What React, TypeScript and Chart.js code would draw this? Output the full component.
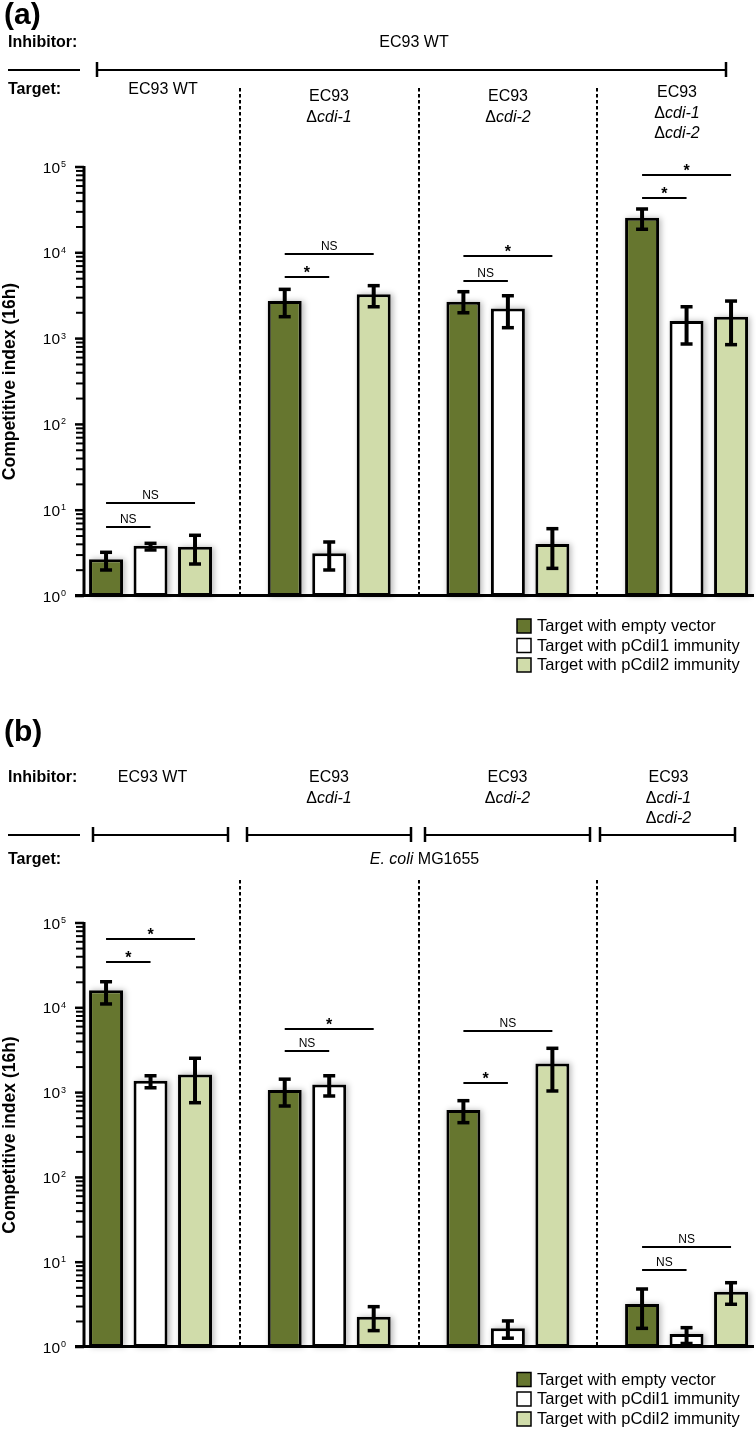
import React, { useEffect, useRef } from 'react';
import { Chart, registerables } from 'chart.js';

Chart.register(...registerables);

const FONT = '"Liberation Sans", Arial, Helvetica, sans-serif';

// ---------- shared ----------
const SERIES_LABELS = ['Target with empty vector', 'Target with pCdiI1 immunity', 'Target with pCdiI2 immunity'];
const SERIES_COLORS = ['#66762f', '#ffffff', '#d0dcaa'];
const GROUP_KEYS = ['g1', 'g2', 'g3', 'g4'];
const Y_TICK_EXPONENTS = [0, 1, 2, 3, 4, 5];
const Y_TITLE = 'Competitive index (16h)';
const INHIBITOR_HEAD = 'Inhibitor:';
const TARGET_HEAD = 'Target:';

// ---------- panel (a) ----------
const A_TITLE = '(a)';
const A_INHIBITORS = [['EC93 WT']];
const A_TARGETS = [['EC93 WT'], ['EC93', 'Δ_cdi-1_'], ['EC93', 'Δ_cdi-2_'], ['EC93', 'Δ_cdi-1_', 'Δ_cdi-2_']];
const A_EMPTY = [2.68, 2740, 2690, 25600];
const A_EMPTY_LO = [2.01, 1800, 2000, 18800];
const A_EMPTY_HI = [3.23, 3750, 3520, 32400];
const A_PI1 = [3.86, 3.14, 2250, 1600];
const A_PI1_LO = [3.44, 2.01, 1340, 865];
const A_PI1_HI = [4.11, 4.26, 3160, 2350];
const A_PI2 = [3.76, 3280, 4.04, 1800];
const A_PI2_LO = [2.36, 2350, 2.1, 850];
const A_PI2_HI = [5.1, 4140, 6.09, 2740];
const A_SIG_12 = ['NS', '*', 'NS', '*'];
const A_SIG_12_Y = [6.4, 5260, 4730, 43500];
const A_SIG_13 = ['NS', 'NS', '*', '*'];
const A_SIG_13_Y = [12.0, 9700, 9100, 80000];

// ---------- panel (b) ----------
const B_TITLE = '(b)';
const B_INHIBITORS = [['EC93 WT'], ['EC93', 'Δ_cdi-1_'], ['EC93', 'Δ_cdi-2_'], ['EC93', 'Δ_cdi-1_', 'Δ_cdi-2_']];
const B_TARGETS = [['_E. coli_ MG1655']];
const B_EMPTY = [16100, 1070, 623, 3.21];
const B_EMPTY_LO = [11100, 695, 442, 1.66];
const B_EMPTY_HI = [20300, 1440, 803, 4.83];
const B_PI1 = [1380, 1250, 1.66, 1.42];
const B_PI1_LO = [1140, 912, 1.27, 1.1];
const B_PI1_HI = [1580, 1580, 2.03, 1.69];
const B_PI2 = [1640, 2.28, 2210, 4.49];
const B_PI2_LO = [760, 1.56, 1045, 3.19];
const B_PI2_HI = [2540, 2.99, 3330, 5.73];
const B_SIG_12 = ['*', 'NS', '*', 'NS'];
const B_SIG_12_Y = [35000, 3100, 1290, 8.2];
const B_SIG_13 = ['*', '*', 'NS', 'NS'];
const B_SIG_13_Y = [65000, 5670, 5320, 15.1];

// ---------- layout (positions / sizes only) ----------
const CANVAS_W = 780;
const PLOT_LEFT = 61.2;
const PLOT_RIGHT = 775.9;
const AXIS_X = 84;
const AXIS_RIGHT = 754;
const LINE_STEP = 20.5;

const A_LAYOUT = {
  height: 680, top: 167, bottom: 596,
  titleY: 16, inhibitorRowY: 43,
  inhibitorX: [414], inhibitorY: [43],
  bracketY: 70, brackets: [[97, 726]],
  targetRowY: 90,
  targetX: [163, 329, 508, 677], targetY: [90, 97, 97, 93],
  dottedTop: 88,
  legendY: [626, 645.5, 665],
};
const B_LAYOUT = {
  height: 750, top: 243, bottom: 667,
  titleY: 53, inhibitorRowY: 98,
  inhibitorX: [152.5, 329, 507.5, 668.5], inhibitorY: [98, 98, 98, 98],
  bracketY: 155, brackets: [[93, 228], [247, 411], [425, 590], [600, 735]],
  targetRowY: 180,
  targetX: [424.5], targetY: [180],
  dottedTop: 200,
  legendY: [699.5, 719, 739],
};

const PANEL_A = {
  title: A_TITLE, inhibitors: A_INHIBITORS, targets: A_TARGETS,
  values: [A_EMPTY, A_PI1, A_PI2], lo: [A_EMPTY_LO, A_PI1_LO, A_PI2_LO], hi: [A_EMPTY_HI, A_PI1_HI, A_PI2_HI],
  sig: [{ to: 1, labels: A_SIG_12, ys: A_SIG_12_Y }, { to: 2, labels: A_SIG_13, ys: A_SIG_13_Y }],
  layout: A_LAYOUT,
};
const PANEL_B = {
  title: B_TITLE, inhibitors: B_INHIBITORS, targets: B_TARGETS,
  values: [B_EMPTY, B_PI1, B_PI2], lo: [B_EMPTY_LO, B_PI1_LO, B_PI2_LO], hi: [B_EMPTY_HI, B_PI1_HI, B_PI2_HI],
  sig: [{ to: 1, labels: B_SIG_12, ys: B_SIG_12_Y }, { to: 2, labels: B_SIG_13, ys: B_SIG_13_Y }],
  layout: B_LAYOUT,
};

function drawRich(ctx: CanvasRenderingContext2D, text: string, cx: number, cy: number, size: number) {
  const parts = text.split('_');
  const fonts = parts.map((_, i) => `${i % 2 ? 'italic ' : ''}${size}px ${FONT}`);
  let total = 0;
  const widths = parts.map((t, i) => {
    ctx.font = fonts[i];
    const w = ctx.measureText(t).width;
    total += w;
    return w;
  });
  let x = cx - total / 2;
  ctx.textAlign = 'left';
  ctx.textBaseline = 'middle';
  parts.forEach((t, i) => {
    ctx.font = fonts[i];
    ctx.fillText(t, x, cy);
    x += widths[i];
  });
}

function hline(ctx: CanvasRenderingContext2D, x1: number, x2: number, y: number, w: number) {
  ctx.lineWidth = w;
  ctx.beginPath();
  ctx.moveTo(x1, y);
  ctx.lineTo(x2, y);
  ctx.stroke();
}
function vline(ctx: CanvasRenderingContext2D, x: number, y1: number, y2: number, w: number) {
  ctx.lineWidth = w;
  ctx.beginPath();
  ctx.moveTo(x, y1);
  ctx.lineTo(x, y2);
  ctx.stroke();
}

function makePlugin(p: any) {
  const L = p.layout;
  return {
    id: 'panelDecor',
    beforeDatasetsDraw(chart: any) {
      const ctx = chart.ctx;
      ctx.save();
      ctx.shadowColor = 'rgba(0,0,0,0.28)';
      ctx.shadowBlur = 6;
      ctx.shadowOffsetX = 2;
      ctx.fillStyle = '#ffffff';
      for (let d = 0; d < 3; d++) {
        chart.getDatasetMeta(d).data.forEach((el: any) => {
          ctx.fillRect(el.x - el.width / 2, el.y, el.width, el.base - el.y);
        });
      }
      ctx.restore();
    },
    afterDraw(chart: any) {
      const ctx: CanvasRenderingContext2D = chart.ctx;
      const xs = chart.scales.x;
      const ys = chart.scales.y;
      const area = chart.chartArea;
      ctx.save();
      ctx.fillStyle = '#000';
      ctx.strokeStyle = '#000';
      ctx.lineCap = 'butt';

      // Header
      ctx.textBaseline = 'middle';
      ctx.textAlign = 'left';
      ctx.font = `bold 30px ${FONT}`;
      ctx.fillText(p.title, 4, L.titleY);
      ctx.font = `bold 16px ${FONT}`;
      ctx.fillText(INHIBITOR_HEAD, 8, L.inhibitorRowY);
      ctx.fillText(TARGET_HEAD, 8, L.targetRowY);
      p.inhibitors.forEach((lines: string[], i: number) => {
        lines.forEach((t, j) => drawRich(ctx, t, L.inhibitorX[i], L.inhibitorY[i] + j * LINE_STEP, 16));
      });
      p.targets.forEach((lines: string[], i: number) => {
        lines.forEach((t, j) => drawRich(ctx, t, L.targetX[i], L.targetY[i] + j * LINE_STEP, 16));
      });
      hline(ctx, 8, 80, L.bracketY, 2);
      L.brackets.forEach(([a, b]: number[]) => {
        hline(ctx, a, b, L.bracketY, 2);
        vline(ctx, a, L.bracketY - 8, L.bracketY + 7, 2.5);
        vline(ctx, b, L.bracketY - 8, L.bracketY + 7, 2.5);
      });

      // Dotted separators between groups
      ctx.save();
      ctx.setLineDash([3.5, 2.5]);
      for (let g = 0; g < GROUP_KEYS.length - 1; g++) {
        const x = Math.round(xs.getPixelForValue(g + 0.5));
        vline(ctx, x, L.dottedTop, area.bottom, 2);
      }
      ctx.restore();

      // Error bars
      for (let d = 0; d < 3; d++) {
        chart.getDatasetMeta(d).data.forEach((el: any, g: number) => {
          const yt = ys.getPixelForValue(p.hi[d][g]);
          const yb = ys.getPixelForValue(p.lo[d][g]);
          vline(ctx, el.x, yt, yb, 4);
          hline(ctx, el.x - 6, el.x + 6, yt, 3.5);
          hline(ctx, el.x - 6, el.x + 6, yb, 3.5);
        });
      }

      // Significance brackets
      const m0 = chart.getDatasetMeta(0).data;
      p.sig.forEach((s: any) => {
        const mt = chart.getDatasetMeta(s.to).data;
        s.labels.forEach((lab: string, g: number) => {
          const y = Math.round(ys.getPixelForValue(s.ys[g]));
          const x1 = m0[g].x;
          const x2 = mt[g].x;
          hline(ctx, x1, x2, y, 2);
          ctx.textAlign = 'center';
          ctx.textBaseline = 'alphabetic';
          if (lab === '*') {
            ctx.font = `bold 16px ${FONT}`;
            ctx.fillText(lab, (x1 + x2) / 2, y + 1);
          } else {
            ctx.font = `12px ${FONT}`;
            ctx.fillText(lab, (x1 + x2) / 2, y - 4);
          }
        });
      });

      // Axes
      vline(ctx, AXIS_X, area.top - 1, area.bottom + 1, 3);
      hline(ctx, 75, AXIS_RIGHT, area.bottom - 0.5, 3);
      for (let e = 0; e < Y_TICK_EXPONENTS.length; e++) {
        const ex = Y_TICK_EXPONENTS[e];
        const yMaj = ys.getPixelForValue(Math.pow(10, ex));
        hline(ctx, 75, AXIS_X, yMaj, 2.5);
        if (e < Y_TICK_EXPONENTS.length - 1) {
          for (let m = 2; m <= 9; m++) {
            const y = ys.getPixelForValue(m * Math.pow(10, ex));
            hline(ctx, 76, AXIS_X, y, 2);
          }
        }
        ctx.textBaseline = 'alphabetic';
        ctx.textAlign = 'right';
        ctx.font = `15.5px ${FONT}`;
        ctx.fillText('10', 60, yMaj + 5.5);
        ctx.textAlign = 'left';
        ctx.font = `9px ${FONT}`;
        ctx.fillText(String(ex), 61, yMaj);
      }
      ctx.save();
      ctx.translate(10, (area.top + area.bottom) / 2);
      ctx.rotate(-Math.PI / 2);
      ctx.textAlign = 'center';
      ctx.textBaseline = 'middle';
      ctx.font = `bold 17.5px ${FONT}`;
      ctx.fillText(Y_TITLE, 0, 0);
      ctx.restore();

      // Legend
      SERIES_LABELS.forEach((lab, i) => {
        const y = L.legendY[i];
        ctx.fillStyle = SERIES_COLORS[i];
        ctx.fillRect(517, y - 7, 14, 14);
        ctx.lineWidth = 1.5;
        ctx.strokeStyle = '#000';
        ctx.strokeRect(517, y - 7, 14, 14);
        ctx.fillStyle = '#000';
        ctx.textAlign = 'left';
        ctx.textBaseline = 'middle';
        ctx.font = `16.5px ${FONT}`;
        ctx.fillText(lab, 537, y + 0.5);
      });
      ctx.restore();
    },
  };
}

function PanelChart({ panel }: { panel: any }) {
  const ref = useRef<HTMLCanvasElement | null>(null);
  useEffect(() => {
    const L = panel.layout;
    const chart = new Chart(ref.current as HTMLCanvasElement, {
      type: 'bar',
      data: {
        labels: GROUP_KEYS,
        datasets: panel.values.map((vals: number[], i: number) => ({
          label: SERIES_LABELS[i],
          data: vals,
          backgroundColor: SERIES_COLORS[i],
          borderColor: '#000000',
          borderWidth: 3,
          borderSkipped: false,
          categoryPercentage: 0.747,
          barPercentage: 0.764,
        })),
      },
      options: {
        responsive: false,
        animation: false,
        devicePixelRatio: 1,
        layout: {
          padding: { top: L.top, bottom: L.height - L.bottom, left: PLOT_LEFT, right: CANVAS_W - PLOT_RIGHT },
        },
        plugins: { legend: { display: false }, tooltip: { enabled: false } },
        scales: {
          x: { type: 'category', display: false, offset: true, grid: { display: false } },
          y: { type: 'logarithmic', display: false, min: 1, max: 100000, grid: { display: false } },
        },
      },
      plugins: [makePlugin(panel)],
    } as any);
    return () => chart.destroy();
  }, [panel]);
  return (
    <canvas
      ref={ref}
      width={CANVAS_W}
      height={panel.layout.height}
      style={{ display: 'block', width: CANVAS_W, height: panel.layout.height }}
    />
  );
}

export default function App() {
  return (
    <div
      style={{
        position: 'absolute', left: 0, top: 0, width: 756, height: 1430,
        overflow: 'hidden', background: '#ffffff',
      }}
    >
      <PanelChart panel={PANEL_A} />
      <PanelChart panel={PANEL_B} />
    </div>
  );
}
